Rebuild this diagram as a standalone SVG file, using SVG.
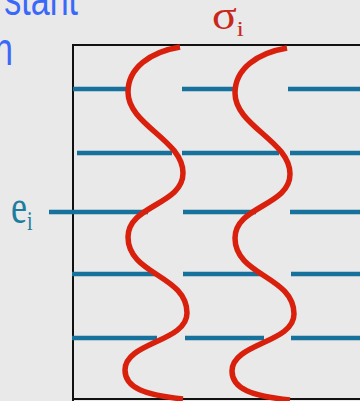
<svg xmlns="http://www.w3.org/2000/svg" width="360" height="401" viewBox="0 0 360 401">
<style>
.frame{fill:none;stroke:#111;stroke-width:2}
.blue{stroke:#16729c;stroke-width:4.5;stroke-linecap:butt;fill:none}
.red{fill:none;stroke:#d8200c;stroke-width:5.5;stroke-linecap:butt}
.title{font-family:"Liberation Sans","DejaVu Sans",sans-serif;fill:#3a68f8}
.serif{font-family:"Liberation Serif","DejaVu Serif",serif}
</style>
<defs>
<path id="wave" d="M180,47 C150,52 128,68 128,92 C128,125 183,140 183,173 C183,205 128,205 128,237 C128,275 187,275 187,313 C187,342 125,342 125,370 C125,388 145,395 183,399"/>
</defs>
<rect width="360" height="401" fill="#e9e9e9"/>
<g id="title">
<text class="title" transform="translate(78,15) scale(1,1.35)" font-size="34" text-anchor="end">stant</text>
<text class="title" transform="translate(13,65) scale(1,1.35)" font-size="34" text-anchor="end">n</text>
</g>
<g id="frame">
<path class="frame" d="M360,45 H73 V401 M73,399 H360"/>
</g>
<g id="lines">
<path class="blue" d="M73,89 H128 M182,89 H235 M288,89 H360"/>
<path class="blue" d="M77,153 H172 M182,153 H279 M290,153 H360"/>
<path class="blue" d="M49,212 H148 M183,212 H256 M290,212 H360"/>
<path class="blue" d="M72,274 H155 M183,274 H262 M291,274 H360"/>
<path class="blue" d="M72,338 H157 M185,338 H264 M291,338 H360"/>
</g>
<g id="curves">
<use href="#wave" class="red"/>
<use href="#wave" class="red" transform="translate(107,1)"/>
</g>
<g id="sigma">
<text class="serif" transform="translate(212,29) scale(1.15,1)" font-size="40" fill="#c8281a">σ<tspan font-size="22" dy="7">i</tspan></text>
</g>
<g id="e">
<text class="serif" transform="translate(11,223) scale(1,1.35)" font-size="36" fill="#1e7d9e">e<tspan font-size="20" dy="5">i</tspan></text>
</g>
</svg>
